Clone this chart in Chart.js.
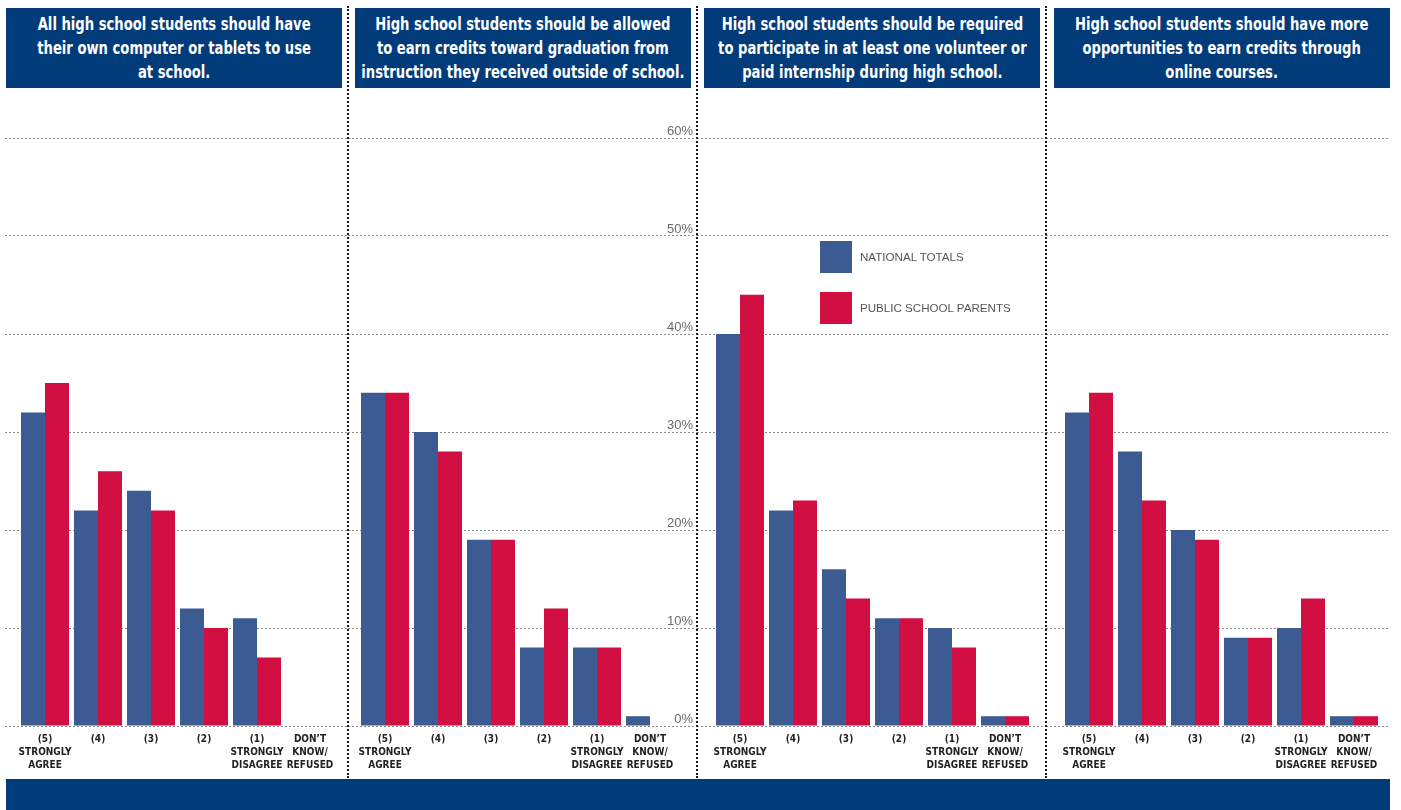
<!DOCTYPE html>
<html>
<head>
<meta charset="utf-8">
<script src="https://cdn.jsdelivr.net/npm/chart.js@4.4.1/dist/chart.umd.min.js"></script>
<style>
  html, body { margin: 0; padding: 0; background: #fff; }
  body { width: 1401px; height: 810px; position: relative; overflow: hidden;
         font-family: "Liberation Sans", Arial, sans-serif; }
  .title { position: absolute; top: 8px; height: 80px; background: #023b79; color: #fff;
           display: flex; align-items: center; justify-content: center; overflow: hidden; }
  .title .text { font-family: "DejaVu Sans Condensed", "Liberation Sans", sans-serif;
                 font-weight: bold; font-size: 17px; line-height: 24px; text-align: center;
                 white-space: nowrap; transform: scaleX(0.86); transform-origin: center center; }
  .sep { position: absolute; top: 6px; height: 772px; width: 0; border-left: 2px dotted #1a1a1a; }
  canvas.panel { position: absolute; top: 100px; }
  .band { position: absolute; left: 6px; top: 779px; width: 1384px; height: 31px; background: #023b79; }
  .legend { position: absolute; left: 820px; top: 241px; }
  .legend .item { position: relative; height: 32px; margin-bottom: 19px; }
  .legend .swatch { position: absolute; left: 0; top: 0; width: 32px; height: 32px; }
  .legend .label { position: absolute; left: 40px; top: 0; line-height: 32px; font-size: 11.6px;
                   color: #555; white-space: nowrap; }
</style>
</head>
<body>
<div id="root"></div>
<script>
// Answer categories shared by all four questions
const categories = [
  ["(5)", "STRONGLY", "AGREE"],
  ["(4)"],
  ["(3)"],
  ["(2)"],
  ["(1)", "STRONGLY", "DISAGREE"],
  ["DON\u2019T", "KNOW/", "REFUSED"]
];

const questions = [
  ["All high school students should have", "their own computer or tablets to use", "at school."],
  ["High school students should be allowed", "to earn credits toward graduation from", "instruction they received outside of school."],
  ["High school students should be required", "to participate in at least one volunteer or", "paid internship during high school."],
  ["High school students should have more", "opportunities to earn credits through", "online courses."]
];

const seriesNames = ["NATIONAL TOTALS", "PUBLIC SCHOOL PARENTS"];
const seriesColors = ["#3d5b93", "#d20f42"];

// Percent of respondents, one row per question
const nationalTotals = [
  [32, 22, 24, 12, 11, 0],
  [34, 30, 19, 8, 8, 1],
  [40, 22, 16, 11, 10, 1],
  [32, 28, 20, 9, 10, 1]
];
const publicSchoolParents = [
  [35, 26, 22, 10, 7, 0],
  [34, 28, 19, 12, 8, 0],
  [44, 23, 13, 11, 8, 1],
  [34, 23, 19, 9, 13, 1]
];

const yTicks = [0, 10, 20, 30, 40, 50, 60];

// Panel geometry (page pixels)
const panelBoxes = [
  { left: 5,    width: 343, firstCenter: 45,   titleLeft: 6,    titleWidth: 336 },
  { left: 348,  width: 349, firstCenter: 385,  titleLeft: 355,  titleWidth: 336 },
  { left: 697,  width: 349, firstCenter: 740,  titleLeft: 704,  titleWidth: 336 },
  { left: 1046, width: 344, firstCenter: 1089, titleLeft: 1054, titleWidth: 336 }
];
const categoryStep = 53;
const separators = [348, 697, 1046];

const root = document.getElementById("root");
const labelFont = "'DejaVu Sans Condensed', 'Liberation Sans', sans-serif";

const charts = panelBoxes.map((box, p) => {
  const t = document.createElement("div");
  t.className = "title";
  t.style.left = box.titleLeft + "px";
  t.style.width = box.titleWidth + "px";
  const tt = document.createElement("div");
  tt.className = "text";
  tt.innerHTML = questions[p].join("<br>");
  t.appendChild(tt);
  root.appendChild(t);

  const canvas = document.createElement("canvas");
  canvas.className = "panel";
  canvas.width = box.width;
  canvas.height = 678;
  canvas.style.left = box.left + "px";
  canvas.style.width = box.width + "px";
  canvas.style.height = "678px";
  root.appendChild(canvas);

  const xMin = -(box.firstCenter - box.left) / categoryStep;
  const xMax = xMin + box.width / categoryStep;
  const rows = [nationalTotals[p], publicSchoolParents[p]];

  return new Chart(canvas, {
    type: "bar",
    data: {
      datasets: seriesNames.map((name, s) => ({
        label: name,
        backgroundColor: seriesColors[s],
        borderWidth: 0,
        categoryPercentage: 0.906,
        barPercentage: 1,
        data: rows[s].map((v, k) => ({ x: k, y: v }))
      }))
    },
    options: {
      responsive: false,
      animation: false,
      devicePixelRatio: 1,
      layout: { padding: { top: 38, left: 0, right: 0, bottom: 0 } },
      plugins: { legend: { display: false }, tooltip: { enabled: false } },
      scales: {
        x: {
          type: "linear",
          offset: false,
          bounds: "data",
          min: xMin,
          max: xMax,
          grid: { display: false, drawTicks: false, offset: false },
          border: { display: false },
          afterBuildTicks: sc => { sc.ticks = categories.map((c, k) => ({ value: k })); },
          afterFit: sc => { sc.height = 52; },
          ticks: {
            autoSkip: false,
            maxRotation: 0,
            minRotation: 0,
            padding: 7,
            color: "#222",
            font: { family: labelFont, weight: "bold", size: 10, lineHeight: 1.3 },
            callback: v => categories[v]
          }
        },
        y: {
          min: 0,
          max: 60,
          position: "right",
          afterBuildTicks: sc => { sc.ticks = yTicks.map(v => ({ value: v })); },
          afterFit: sc => { sc.width = 0; },
          grid: { color: "#8a8a8a", lineWidth: 1, drawTicks: false },
          border: { display: false, dash: [2, 2] },
          ticks: {
            display: p === 1,
            mirror: true,
            padding: -4,
            labelOffset: -7,
            color: "#6a6a6a",
            font: { family: "'Liberation Sans', sans-serif", size: 13 },
            callback: v => v + "%"
          }
        }
      }
    }
  });
});

separators.forEach(x => {
  const d = document.createElement("div");
  d.className = "sep";
  d.style.left = (x - 1) + "px";
  root.appendChild(d);
});

// Legend built from the chart's own datasets
const legend = document.createElement("div");
legend.className = "legend";
charts[2].data.datasets.forEach(ds => {
  const item = document.createElement("div");
  item.className = "item";
  const sw = document.createElement("div");
  sw.className = "swatch";
  sw.style.background = ds.backgroundColor;
  const lb = document.createElement("div");
  lb.className = "label";
  lb.textContent = ds.label;
  item.appendChild(sw);
  item.appendChild(lb);
  legend.appendChild(item);
});
root.appendChild(legend);

const band = document.createElement("div");
band.className = "band";
root.appendChild(band);
</script>
</body>
</html>
